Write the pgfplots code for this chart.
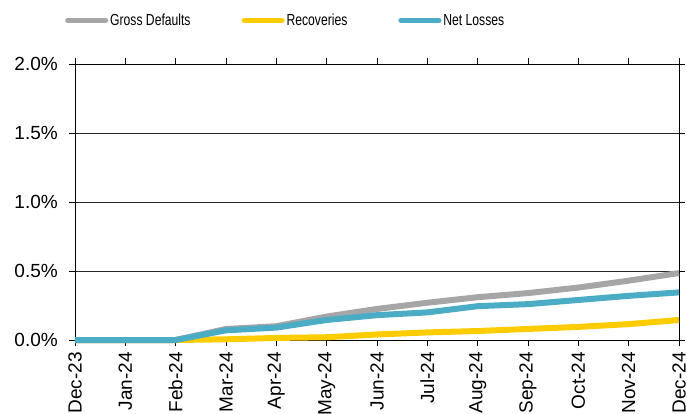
\documentclass[border=0pt]{standalone}
\usepackage{fontspec}
\setmainfont{Liberation Sans}
\newfontfamily\narrowfont[FakeStretch=0.76]{Liberation Sans}
\usepackage{pgfplots}
\pgfplotsset{compat=1.18}
\definecolor{grossc}{RGB}{166,166,166}
\definecolor{recc}{RGB}{255,204,0}
\definecolor{netc}{RGB}{75,172,198}
\begin{document}
\begin{tikzpicture}
\begin{axis}[
  scale only axis,
  width=604bp, height=276bp,
  xmin=0, xmax=12, ymin=0, ymax=2,
  xtick={0,...,12},
  xticklabels={Dec-23,Jan-24,Feb-24,Mar-24,Apr-24,May-24,Jun-24,Jul-24,Aug-24,Sep-24,Oct-24,Nov-24,Dec-24},
  ytick={0,0.5,1,1.5,2},
  yticklabels={0.0\%,0.5\%,1.0\%,1.5\%,2.0\%},
  tick align=outside,
  major tick length=6bp,
  tick style={black, line width=0.8bp},
  axis line style={black, line width=0.8bp},
  ymajorgrids, grid style={black!85, line width=0.8bp},
  xticklabel style={yshift=-6bp, rotate=90, anchor=east, inner sep=0pt, font=\fontsize{19bp}{21bp}\selectfont},
  yticklabel style={xshift=-11bp, anchor=east, inner sep=0pt, font=\fontsize{19bp}{21bp}\selectfont},
  legend columns=3,
  legend style={draw=none, fill=none, at={(rel axis cs:0,1)}, anchor=south west, xshift=-13bp, yshift=33bp,
    font=\narrowfont\fontsize{16bp}{18bp}\selectfont, /tikz/every even column/.append style={column sep=49bp}},
  legend image code/.code={\draw[#1, line width=5bp, line cap=round] (0bp,0bp) -- (38bp,0bp);},
  clip=false,
]
\addplot[grossc, line width=6bp] coordinates {(0,0) (1,0) (2,0) (3,0.08) (4,0.10) (5,0.17) (6,0.225) (7,0.27) (8,0.31) (9,0.34) (10,0.38) (11,0.43) (12,0.485)};
\addlegendentry{Gross Defaults}
\addplot[recc, line width=6bp] coordinates {(0,0) (1,0) (2,0) (3,0.005) (4,0.015) (5,0.02) (6,0.04) (7,0.055) (8,0.065) (9,0.08) (10,0.095) (11,0.115) (12,0.145)};
\addlegendentry{Recoveries}
\addplot[netc, line width=6bp] coordinates {(0,0) (1,0) (2,0) (3,0.07) (4,0.09) (5,0.145) (6,0.18) (7,0.20) (8,0.245) (9,0.26) (10,0.29) (11,0.32) (12,0.345)};
\addlegendentry{Net Losses}
\coordinate (sw) at (rel axis cs:0,0);
\coordinate (ne) at (rel axis cs:1,1);
\end{axis}
\pgfresetboundingbox
\path[use as bounding box] ([xshift=-75bp,yshift=-74bp]sw) rectangle ([xshift=8bp,yshift=64bp]ne);
\end{tikzpicture}
\end{document}
